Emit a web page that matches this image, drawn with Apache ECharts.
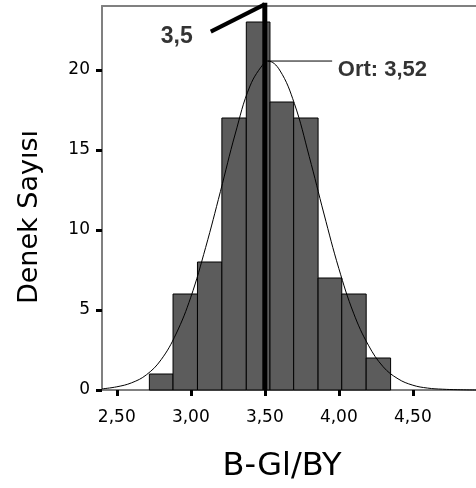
<!DOCTYPE html>
<html><head><meta charset="utf-8">
<script src="https://cdn.jsdelivr.net/npm/echarts@6/dist/echarts.min.js"></script>
<style>html,body{margin:0;padding:0;background:#fff}#c{width:476px;height:488px}</style>
</head><body><div id="c"></div>
<script>
// Histogram bins (edges) and counts
const binEdges = [2.72, 2.88, 3.045, 3.21, 3.375, 3.535, 3.695, 3.86, 4.02, 4.185, 4.35];
const counts = [1, 6, 8, 17, 23, 18, 17, 7, 6, 2];
// Fitted normal curve
const curveX = [2.40, 2.50, 2.60, 2.70, 2.80, 2.90, 3.00, 3.10, 3.20, 3.30, 3.40, 3.50, 3.52, 3.60, 3.70, 3.80, 3.90, 4.00, 4.10, 4.20, 4.30, 4.40, 4.50, 4.60, 4.70, 4.80, 4.93];
const curveY = [0.07, 0.2, 0.45, 0.95, 1.9, 3.5, 5.8, 8.9, 12.4, 16.0, 19.0, 20.5, 20.56, 20.0, 17.9, 14.6, 11.0, 7.6, 4.8, 2.8, 1.45, 0.7, 0.3, 0.12, 0.05, 0.02, 0.0];
// Tick labels
const xTicks = [2.5, 3.0, 3.5, 4.0, 4.5];
const yTicks = [0, 5, 10, 15, 20];
// Annotations
const markedValue = 3.5;
const markedLabel = '3,5';
const meanValue = 3.52;
const meanPeak = 20.56;
const meanLabel = 'Ort: 3,52';
const xName = 'B-Gl/BY';
const yName = 'Denek Sayısı';

const barData = counts.map((c, i) => [binEdges[i], binEdges[i + 1], c]);
const curveData = curveX.map((x, i) => [x, curveY[i]]);
const fmt = v => Number(v).toFixed(2).replace('.', ',');

const chart = echarts.init(document.getElementById('c'), null, {renderer: 'canvas'});
chart.setOption({
  animation: false,
  backgroundColor: '#fff',
  grid: {left: 102, right: 0, top: 6, bottom: 98, containLabel: false, outerBoundsMode: 'none'},
  xAxis: [{
    type: 'value', min: 2.4, max: 4.927,
    axisLine: {show: true, onZero: false, lineStyle: {color: '#808080', width: 2}},
    axisTick: {show: true, customValues: xTicks, length: 6, lineStyle: {color: '#000', width: 3}},
    axisLabel: {customValues: xTicks, formatter: fmt, fontSize: 17, fontFamily: 'DejaVu Sans', color: '#000', margin: 19},
    splitLine: {show: false}
  }, {
    type: 'value', position: 'top', min: 2.4, max: 4.927,
    axisLine: {show: true, onZero: false, lineStyle: {color: '#808080', width: 2}},
    axisTick: {show: false}, axisLabel: {show: false}, splitLine: {show: false}
  }],
  yAxis: {
    type: 'value', min: 0, max: 24,
    axisLine: {show: true, onZero: false, lineStyle: {color: '#808080', width: 2}},
    axisTick: {show: true, customValues: yTicks, length: 6, lineStyle: {color: '#000', width: 3}},
    axisLabel: {customValues: yTicks, fontSize: 17, fontFamily: 'DejaVu Sans', color: '#000', margin: 12},
    splitLine: {show: false}
  },
  graphic: [
    {type: 'text', x: 30, y: 217, rotation: Math.PI / 2, style: {text: yName, font: '27px "DejaVu Sans"', fill: '#000', align: 'center', verticalAlign: 'middle'}},
    {type: 'text', x: 282, y: 467, style: {text: xName, font: '32px "DejaVu Sans"', fill: '#000', align: 'center', verticalAlign: 'middle'}}
  ],
  series: [
    {
      type: 'custom', xAxisIndex: 0, data: barData, z: 2,
      renderItem: (params, api) => {
        const p0 = api.coord([api.value(0), api.value(2)]);
        const p1 = api.coord([api.value(1), 0]);
        return {type: 'rect', shape: {x: p0[0], y: p0[1], width: p1[0] - p0[0], height: p1[1] - p0[1]},
          style: {fill: '#5c5c5c', stroke: '#000', lineWidth: 1}};
      }
    },
    {
      type: 'line', data: curveData, smooth: 0.4, showSymbol: false, z: 3, clip: false,
      lineStyle: {color: '#000', width: 1}
    },
    {
      type: 'line', data: [[markedValue, 0], [markedValue, 24.2]], showSymbol: false, z: 4, clip: false,
      lineStyle: {color: '#000', width: 5}
    },
    {
      type: 'line', data: [[3.135, 22.4], [markedValue, 24.1]], showSymbol: false, z: 4, clip: false,
      lineStyle: {color: '#000', width: 4}
    },
    {
      type: 'line', data: [[meanValue, meanPeak], [3.955, meanPeak]], showSymbol: false, z: 4, clip: false,
      lineStyle: {color: '#000', width: 1}
    },
    {
      type: 'scatter', symbolSize: 0, z: 5, clip: false,
      data: [{value: [2.905, 22.06], label: {show: true, position: 'inside', formatter: markedLabel, fontSize: 23, fontWeight: 'bold', fontFamily: 'Liberation Sans', color: '#000'}},
             {value: [3.993, 20.0], label: {show: true, position: 'right', distance: 0, formatter: meanLabel, fontSize: 22, fontWeight: 'bold', fontFamily: 'Liberation Sans', color: '#000'}}]
    }
  ]
});
</script></body></html>
